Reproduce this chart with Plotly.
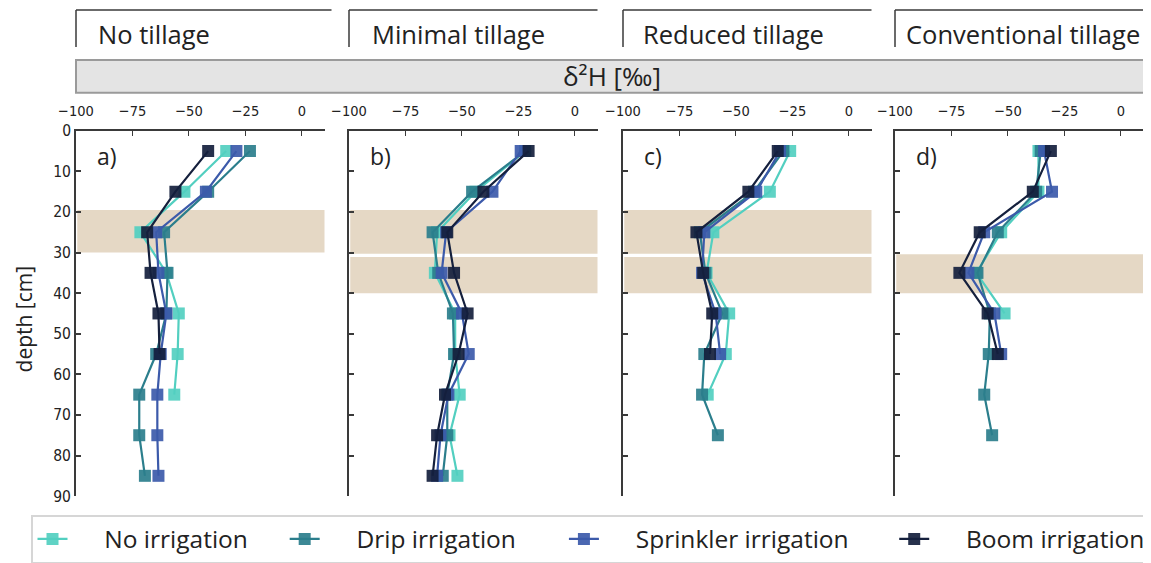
import plotly.graph_objects as go

# page body has an 8px margin: figure is sized so that it fills the 1151x563 window
OFF = 8
W, H = 1151 - OFF, 563 - OFF

depths = [5, 15, 25, 35, 45, 55, 65, 75, 85]
series_names = ["No irrigation", "Drip irrigation", "Sprinkler irrigation", "Boom irrigation"]
series_colors = ["#52cfc0", "#2b7e8c", "#3c5aaa", "#15203d"]

panel_titles = ["No tillage", "Minimal tillage", "Reduced tillage", "Conventional tillage"]
panel_letters = ["a)", "b)", "c)", "d)"]

# delta2H values [permil] per panel, series order as series_names
no_till = [
    [-33.5, -52, -71.5, -60, -54.5, -55, -56.5, None, None],
    [-23, -41.5, -61, -59.5, -60, -64.5, -72, -72, -69.5],
    [-29, -42.5, -64.5, -63.5, -60, -62.5, -64, -64, -63.5],
    [-41.5, -56, -68.5, -67, -63.5, -63, None, None, None],
]
minimal_till = [
    [-22, -44, -61, -62, -53, -53, -51, -55.5, -52],
    [-22, -45.5, -63, -60.5, -54, -53.5, -56.5, -56.5, -58.5],
    [-24, -36.5, -57, -59, -50, -47, -56, -59.5, -61],
    [-20.5, -40.5, -56.5, -53.5, -47.5, -51.5, -57.5, -61, -63],
]
reduced_till = [
    [-26, -35, -60, -63, -53, -54.5, -62.5, None, None],
    [-29, -42, -66, -63.5, -56, -64, -65, -58, None],
    [-30.5, -41, -64, -65, -59, -57, None, None, None],
    [-31.5, -44.5, -67.5, -64.5, -60.5, -61.5, None, None, None],
]
conventional_till = [
    [-36.5, -36.5, -53, -64, -51.5, None, None, None, None],
    [-35.5, -37.5, -54.5, -63.5, -58, -58.5, -60.5, -57, None],
    [-34, -30.5, -60.5, -67.5, -56, -53, None, None, None],
    [-31, -39, -62.5, -71.5, -59, -54.5, None, None, None],
]
panels = [no_till, minimal_till, reduced_till, conventional_till]

# compacted soil layers (depth ranges, cm) per panel
bands = [
    [(19.5, 30.0)],
    [(19.5, 30.3), (31.1, 40.0)],
    [(19.5, 30.3), (31.1, 40.0)],
    [(30.4, 40.0)],
]

x_tickvals = [-100, -75, -50, -25, 0]
x_ticktext = ["\u2212100", "\u221275", "\u221250", "\u221225", "0"]
y_tickvals = [0, 10, 20, 30, 40, 50, 60, 70, 80, 90]

# layout in screen pixels
px_domains = [(76, 324.5), (349, 597.5), (623, 871.5), (895, 1143.5)]
title_offsets = [20, 21, 18, 9]
y_top, y_bot = 131, 497

def fx(p):
    return (p - OFF) / W

def fy(p):
    return 1 - (p - OFF) / H

fig = go.Figure()

axis_color = "#3a3a3a"
tick_font = dict(family="DejaVu Sans Condensed, Liberation Sans Narrow, DejaVu Sans", size=14.5, color="#222")
txt_font = "Open Sans, Noto Sans, sans-serif"
# legend spacing before / after each entry
lead = "\u00a0" * 5
pads = ["\u00a0" * 5, "\u00a0" * 6 + "\u200a" * 2, "\u00a0" * 6 + "\u200a", ""]

for i, pdata in enumerate(panels):
    xa = "x" if i == 0 else f"x{i+1}"
    ya = "y" if i == 0 else f"y{i+1}"
    for s, (name, col) in enumerate(zip(series_names, series_colors)):
        fig.add_trace(go.Scatter(
            x=pdata[s], y=depths, mode="lines+markers",
            name=lead + name + pads[s],
            line=dict(color=col, width=2.2),
            marker=dict(symbol="square", size=12, color=col, opacity=0.92,
                        line=dict(width=0)),
            connectgaps=False, showlegend=(i == 0), legendgroup=name,
            xaxis=xa, yaxis=ya,
        ))
    d0, d1 = px_domains[i]
    xkey = "xaxis" if i == 0 else f"xaxis{i+1}"
    ykey = "yaxis" if i == 0 else f"yaxis{i+1}"
    fig.update_layout(**{
        xkey: dict(domain=[fx(d0), fx(d1)], range=[-100, 10], side="top",
                   anchor=ya, tickvals=x_tickvals, ticktext=x_ticktext,
                   ticks="inside", ticklen=5, tickcolor=axis_color, tickwidth=1.3,
                   showline=True, linecolor=axis_color, linewidth=1.5,
                   showgrid=False, zeroline=False, tickfont=tick_font,
                   ticklabelstandoff=7, automargin=False),
        ykey: dict(domain=[fy(y_bot), fy(y_top)], range=[90, 0], anchor=xa,
                   tickvals=y_tickvals, showticklabels=(i == 0),
                   ticks="inside", ticklen=5, tickcolor=axis_color, tickwidth=1.5,
                   showline=True, linecolor=axis_color, linewidth=1.8,
                   showgrid=False, zeroline=False, tickfont=dict(tick_font, size=15.5),
                   automargin=False),
    })
    for (b0, b1) in bands[i]:
        fig.add_shape(type="rect", xref=f"{xa} domain", yref=ya,
                      x0=0.005, x1=1, y0=b0, y1=b1, fillcolor="#e5d8c5",
                      line=dict(width=0), layer="below")
    # panel letter
    fig.add_annotation(text=panel_letters[i], xref=f"{xa} domain", yref=ya,
                       x=0.075, y=6.3, xanchor="left", yanchor="middle",
                       showarrow=False, font=dict(family=txt_font, size=23, color="#222"))
    # title bracket
    fig.add_shape(type="line", xref="paper", yref="paper",
                  x0=fx(d0), x1=fx(d1 + (7 if i == 0 else 0)), y0=fy(10), y1=fy(10),
                  line=dict(color=axis_color, width=1.5))
    fig.add_shape(type="line", xref="paper", yref="paper",
                  x0=fx(d0), x1=fx(d0), y0=fy(10), y1=fy(47),
                  line=dict(color=axis_color, width=1.5))
    fig.add_annotation(text=panel_titles[i], xref="paper", yref="paper",
                       x=fx(d0 + title_offsets[i]), y=fy(34), xanchor="left", yanchor="middle",
                       showarrow=False, font=dict(family=txt_font, size=25.5, color="#222"))

# delta2H header strip
fig.add_shape(type="rect", xref="paper", yref="paper", x0=fx(76), x1=fx(1146),
              y0=fy(60), y1=fy(93), fillcolor="#e4e4e4",
              line=dict(color="#9a9a9a", width=2))
fig.add_annotation(text="\u03b4\u00b2H [\u2030]", xref="paper", yref="paper",
                   x=fx(612), y=fy(76.5), xanchor="center", yanchor="middle",
                   showarrow=False, font=dict(family=txt_font, size=26, color="#222"))

# y axis title
fig.add_annotation(text="depth [cm]", xref="paper", yref="paper",
                   x=fx(24), y=fy(320), textangle=-90, xanchor="center", yanchor="middle",
                   showarrow=False, font=dict(family=txt_font, size=21, color="#222"))

fig.update_layout(
    width=W, height=H, margin=dict(l=0, r=0, t=0, b=0),
    paper_bgcolor="white", plot_bgcolor="white",
    legend=dict(orientation="h", x=fx(33), y=fy(516), xanchor="left", yanchor="top",
                font=dict(family=txt_font, size=24.5, color="#222"),
                bordercolor="#d6d6d6", borderwidth=1.5, bgcolor="white",
                itemwidth=30, traceorder="normal"),
)

fig.write_html("out.html")
